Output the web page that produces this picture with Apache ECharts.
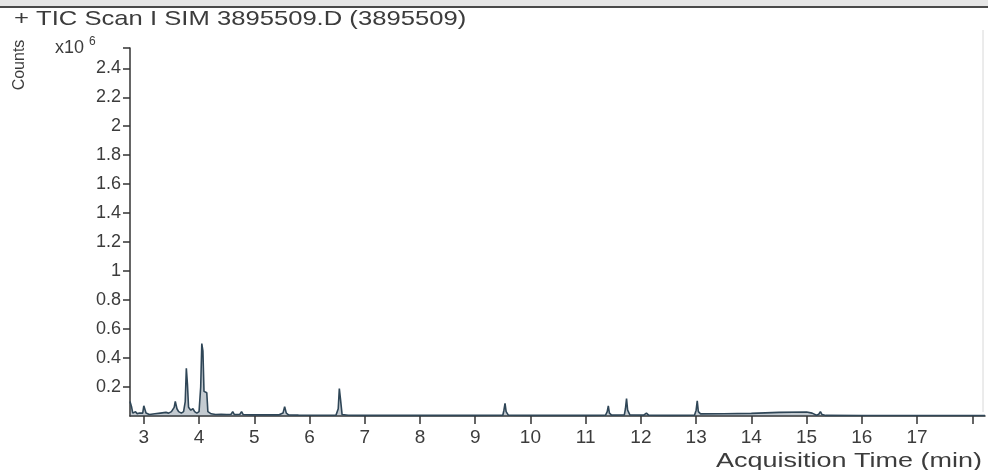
<!DOCTYPE html>
<html>
<head>
<meta charset="utf-8">
<script src="https://cdn.jsdelivr.net/npm/echarts@6/dist/echarts.min.js"></script>
<style>html,body{margin:0;padding:0;background:#fff}#c{width:988px;height:470px}</style>
</head>
<body>
<div id="c"></div>
<script>
// Acquisition time (min) and TIC counts (x10^6)
const times = [2.75,2.78,2.80,2.85,2.88,2.92,2.95,2.98,3.00,3.02,3.04,3.10,3.20,3.30,3.40,3.45,3.50,3.55,3.57,3.60,3.63,3.68,3.72,3.75,3.77,3.79,3.81,3.85,3.89,3.92,3.96,4.00,4.03,4.05,4.07,4.09,4.12,4.14,4.16,4.22,4.30,4.40,4.50,4.58,4.61,4.64,4.74,4.77,4.80,4.95,5.10,5.30,5.45,5.52,5.55,5.58,5.62,5.80,6.00,6.30,6.48,6.52,6.54,6.56,6.59,6.70,7.00,7.50,8.00,8.50,9.00,9.50,9.52,9.54,9.56,9.60,10.0,10.5,11.0,11.36,11.39,11.41,11.43,11.47,11.70,11.72,11.74,11.76,11.80,12.05,12.10,12.14,12.50,12.97,13.00,13.02,13.04,13.08,13.5,14.0,14.5,15.0,15.10,15.18,15.22,15.25,15.28,15.35,16.0,17.0,18.23];
const counts = [0.10,0.06,0.02,0.03,0.015,0.02,0.01,0.02,0.07,0.075,0.02,0.01,0.015,0.02,0.025,0.02,0.03,0.06,0.10,0.05,0.03,0.02,0.03,0.10,0.33,0.22,0.06,0.04,0.05,0.03,0.02,0.03,0.20,0.50,0.45,0.17,0.17,0.16,0.03,0.015,0.01,0.012,0.01,0.012,0.03,0.01,0.012,0.03,0.01,0.008,0.008,0.008,0.008,0.02,0.065,0.02,0.008,0.006,0.005,0.005,0.006,0.05,0.19,0.12,0.01,0.005,0.004,0.004,0.004,0.004,0.004,0.005,0.04,0.087,0.03,0.006,0.004,0.004,0.004,0.006,0.03,0.07,0.02,0.006,0.008,0.05,0.12,0.04,0.008,0.006,0.02,0.006,0.004,0.006,0.04,0.105,0.03,0.015,0.016,0.018,0.025,0.028,0.02,0.005,0.012,0.03,0.01,0.004,0.003,0.003,0.003];
const xTicks = [3,4,5,6,7,8,9,10,11,12,13,14,15,16,17,18];
const xLabels = [3,4,5,6,7,8,9,10,11,12,13,14,15,16,17];
const yLabels = [0.2,0.4,0.6,0.8,1.0,1.2,1.4,1.6,1.8,2.0,2.2,2.4];
const xMin = 2.75, xMax = 18.23, yMax = 2.54;

const txt = '#3c3c3c';
const font = '"Liberation Sans", Arial, sans-serif';
const chart = echarts.init(document.getElementById('c'), null, {renderer:'canvas'});
chart.setOption({
  animation:false,
  backgroundColor:'#ffffff',
  grid:{left:130, right:3, top:48, bottom:54, containLabel:false},
  xAxis:{
    type:'value', min:xMin, max:xMax,
    axisLine:{show:true, onZero:false, lineStyle:{color:'#333', width:1.5}},
    axisTick:{show:true, inside:false, length:8, customValues:xTicks, lineStyle:{color:'#333', width:1.5}},
    axisLabel:{customValues:xLabels, color:txt, fontSize:19, fontFamily:font, margin:12},
    splitLine:{show:false}
  },
  yAxis:{
    type:'value', min:0, max:yMax,
    axisLine:{show:true, lineStyle:{color:'#333', width:1.5}},
    axisTick:{show:true, inside:false, length:7, customValues:yLabels.concat([yMax]), lineStyle:{color:'#333', width:1.5}},
    axisLabel:{customValues:yLabels, color:txt, fontSize:18, fontFamily:font, margin:9,
      formatter:v=>String(+(+v).toFixed(1))},
    splitLine:{show:false}
  },
  series:[{
    type:'line', showSymbol:false, symbol:'none',
    data:times.map((t,i)=>[t,counts[i]]),
    lineStyle:{color:'#2f4657', width:1.6},
    itemStyle:{color:'#2f4657'},
    areaStyle:{color:'#3a5366', opacity:0.3},
    z:3
  }],
  graphic:[
    {type:'rect', shape:{x:0,y:0,width:988,height:6}, style:{fill:'#e6e6e6'}, silent:true},
    {type:'rect', shape:{x:0,y:6,width:988,height:2}, style:{fill:'#4a4a4a'}, silent:true},
    {type:'line', shape:{x1:983,y1:30,x2:983,y2:412}, style:{stroke:'#d8d8d8', lineWidth:1}, silent:true},
    {type:'text', x:14, y:19, scaleX:1.22, style:{text:'+ TIC Scan I SIM 3895509.D (3895509)', fill:txt, font:'21px '+font, verticalAlign:'middle'}},
    {type:'text', x:20, y:65, rotation:Math.PI/2, style:{text:'Counts', fill:txt, font:'16px '+font, align:'center', verticalAlign:'middle'}},
    {type:'text', x:55, y:48, style:{text:'x10', fill:txt, font:'18px '+font, verticalAlign:'middle'}},
    {type:'text', x:89, y:42, style:{text:'6', fill:txt, font:'12px '+font, verticalAlign:'middle'}},
    {type:'text', x:982, y:461, scaleX:1.35, style:{text:'Acquisition Time (min)', fill:txt, font:'20px '+font, align:'right', verticalAlign:'middle'}}
  ]
});
</script>
</body>
</html>
